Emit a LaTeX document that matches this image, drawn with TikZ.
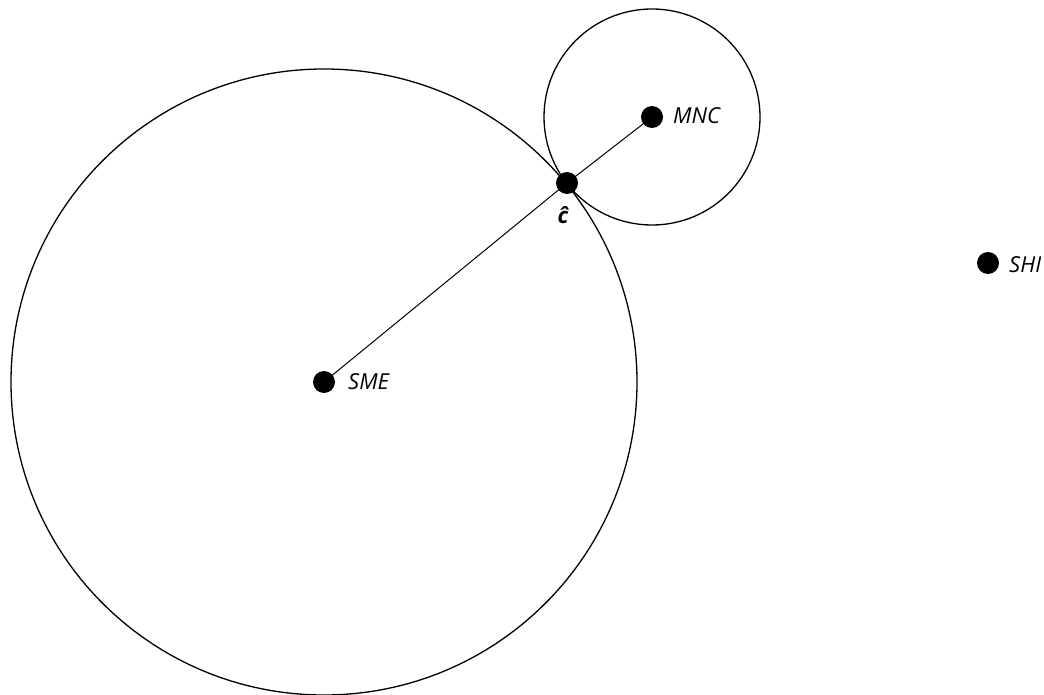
\documentclass[tikz,border=0pt]{standalone}
\usepackage{fontspec}
\setmainfont{Open Sans}
\begin{document}
\begin{tikzpicture}[x=1pt,y=-1pt,
  dot/.style={circle,fill=black,inner sep=0pt,minimum size=22pt},
  lbl/.style={anchor=base west,inner sep=0pt,font=\fontsize{22}{22}\selectfont\itshape},
  ring/.style={draw=black,line width=1.3pt}]
\useasboundingbox (0,0) rectangle (1044,695);
\coordinate (sme) at (324,382);
\coordinate (mnc) at (652,117);
\draw[ring] (sme) circle (313);
\draw[ring] (mnc) circle (108);
\node[dot] (SME) at (sme) {};
\node[dot] (MNC) at (mnc) {};
\node[dot] (C) at (567,183) {};
\node[dot] (SHI) at (988,263) {};
\draw[line width=1pt] (SME.center) -- (C.center) -- (MNC.center);
\node[lbl] (tMNC) at (673,124) {MNC};
\node[lbl] (tSME) at (348,389) {SME};
\node[lbl] (tSHI) at (1009,272) {SHI};
\node[lbl,anchor=base,font=\fontsize{22}{22}\selectfont\bfseries\itshape] (tC) at (563,223) {ĉ};
\end{tikzpicture}
\end{document}
